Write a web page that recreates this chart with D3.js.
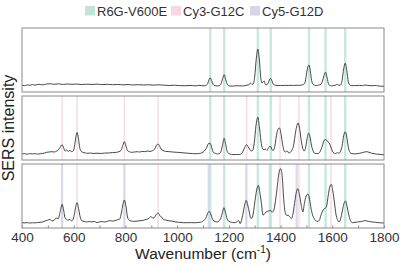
<!DOCTYPE html>
<html>
<head>
<meta charset="utf-8">
<script src="https://cdn.jsdelivr.net/npm/d3@7"></script>
<style>
  body { margin: 0; background: #fff; }
  text { font-family: "Liberation Sans", Arial, sans-serif; }
</style>
</head>
<body>
<div id="chart"></div>
<script>
// legend entries
const legendLabels = ["R6G-V600E", "Cy3-G12C", "Cy5-G12D"];

// x axis ticks
const xTicks = [400, 600, 800, 1000, 1200, 1400, 1600, 1800];

// marker band positions (cm-1)
const r6gBands = [1128, 1182, 1312, 1362, 1510, 1574, 1650];
const cy3Bands = [555, 613, 796, 926, 1269, 1398, 1471, 1595];
const cy5Bands = [555, 796, 1122, 1267, 1358, 1462];

// spectra, [wavenumber, intensity a.u.]
const spectrumTop = [[400,10.5],[410,10],[420,11],[430,10.5],[440,11.5],[450,10.8],[465,12],[480,11.2],[495,12.5],[510,13],[525,12],[540,12.8],[560,11.8],[575,12.5],[590,12],[610,12.4],[630,11.6],[650,12.2],[670,11.8],[690,12.3],[710,11.5],[730,12],[750,11.4],[770,11.8],[790,11.2],[810,11.6],[830,11],[850,11.4],[870,11],[890,11.3],[910,10.8],[930,11.2],[950,10.6],[970,10.2],[990,10.6],[1010,10],[1030,9.8],[1050,10.2],[1070,9.6],[1085,10.4],[1095,10],[1105,9.6],[1112,10.5],[1118,13],[1123,19],[1128,22],[1133,18],[1139,12],[1146,9.8],[1155,9.4],[1162,10],[1170,13],[1176,21],[1182,27],[1188,19],[1194,12],[1202,9.5],[1212,9.2],[1222,9.4],[1232,9.8],[1242,9.6],[1252,9.4],[1262,10],[1270,10.6],[1278,11.5],[1284,14],[1289,12],[1294,12.5],[1300,24],[1306,52],[1312,67],[1318,50],[1323,24],[1328,14],[1333,16],[1337,17],[1341,12],[1346,11],[1352,14],[1357,19],[1362,21],[1367,17],[1372,12],[1380,10.5],[1390,10],[1400,10.4],[1410,10],[1420,10.4],[1430,10.2],[1440,10.5],[1450,10.2],[1460,10.6],[1470,10.4],[1480,10.8],[1490,12],[1496,17],[1501,30],[1506,40],[1510,42],[1515,33],[1520,18],[1526,12],[1532,10.5],[1540,10],[1548,11],[1556,12],[1562,17],[1568,26],[1574,31],[1580,22],[1586,12],[1592,10],[1598,9.5],[1606,10],[1614,11],[1620,12],[1626,10.5],[1632,11],[1638,18],[1644,36],[1650,45],[1656,34],[1662,16],[1668,11],[1676,9.8],[1686,10.2],[1696,10],[1706,10.4],[1716,10],[1726,10.8],[1736,10.4],[1746,10],[1756,9.8],[1766,10.2],[1776,9.6],[1786,9.2],[1800,8.8]];

const spectrumMid = [[400,9.4],[410,10],[420,9],[430,10],[440,9.4],[450,10],[460,9.2],[470,9.8],[480,10.2],[488,11],[495,12],[505,12.5],[515,13],[525,12.5],[532,13.5],[540,15.6],[548,20],[555,24],[561,19],[567,14],[573,15.6],[579,13.5],[585,15],[592,13],[598,14],[604,24],[608,35],[613,43],[618,34],[623,20],[628,14],[635,12],[645,11],[655,10.4],[665,11],[675,10.2],[690,10.6],[705,10.2],[720,10.8],[735,11],[750,11.5],[765,12],[775,13],[783,15],[790,23],[796,28.6],[802,22],[808,15],[815,13],[825,12],[835,12.5],[845,13],[855,12.4],[865,13.5],[875,13],[885,14],[895,13.5],[905,14.6],[913,17],[920,23],[926,25],[932,22],[938,17],[945,15],[955,13.5],[970,13],[985,12.4],[1000,12],[1015,11.5],[1030,11],[1045,10.4],[1060,10],[1075,9.8],[1090,10.5],[1100,12],[1108,15.6],[1115,20],[1122,26],[1128,26],[1134,19],[1140,12],[1148,10.4],[1156,9.4],[1163,10],[1170,14],[1176,24],[1182,34],[1188,24],[1194,13],[1200,10],[1210,8.8],[1220,8.4],[1230,8.6],[1240,8.5],[1248,9.5],[1255,14],[1262,20],[1268,24],[1274,21],[1280,17],[1286,14],[1292,15],[1298,26],[1305,54],[1312,67],[1318,52],[1324,30],[1330,18],[1336,16],[1342,17],[1347,15],[1352,18],[1357,21],[1362,21],[1367,16],[1372,15],[1378,22],[1384,38],[1390,48],[1396,50],[1402,40],[1408,24],[1414,14],[1420,12.5],[1426,14],[1432,11],[1438,12],[1444,15.6],[1450,22],[1456,38],[1462,52],[1468,58],[1474,48],[1480,30],[1486,18],[1491,14],[1496,18],[1502,32],[1508,42],[1514,36],[1520,22],[1526,14],[1533,10.4],[1540,10],[1547,10.4],[1554,14],[1560,20],[1566,28],[1572,32],[1578,31],[1584,28],[1590,25],[1595,20],[1600,14],[1606,11],[1613,10],[1620,11.5],[1626,10.5],[1632,14],[1638,22],[1644,38],[1650,44],[1656,36],[1662,20],[1668,12],[1676,10],[1686,9.6],[1696,9.8],[1706,10.5],[1716,11.5],[1726,12.6],[1734,13],[1742,12],[1752,10.6],[1762,9.8],[1772,9.2],[1784,8.8],[1800,8]];

const spectrumBot = [[400,8.3],[410,8],[420,8.4],[430,7.8],[440,8.2],[450,8],[460,8.5],[470,8.8],[480,9.4],[490,11],[498,12],[508,13.5],[516,11],[524,12],[532,15.6],[540,14.6],[548,26],[555,37],[561,28],[567,15],[572,13.5],[578,12],[585,13.5],[592,11],[598,14],[603,22.4],[608,34],[613,39.6],[619,30],[625,17.2],[632,11],[640,10.4],[650,9.4],[660,10],[670,9.6],[680,10.4],[690,8.4],[700,9.6],[710,10],[720,9.4],[730,10.5],[740,11.5],[750,10.8],[760,11.5],[770,13],[778,14],[785,25],[790,36],[796,43.75],[802,34],[808,17.2],[815,12],[822,11],[832,10.4],[845,10.8],[860,11.5],[870,12],[880,13.5],[890,14.6],[898,18.2],[904,16],[910,15.6],[916,19],[921,22],[927,23.4],[933,19],[940,17.2],[946,13.5],[955,12.5],[965,11.5],[980,10.8],[995,9.4],[1010,8.8],[1025,8.3],[1040,8.3],[1055,8.4],[1070,8.2],[1085,8.8],[1095,9.4],[1103,12],[1110,14.6],[1117,22],[1124,26],[1130,22],[1136,14.6],[1142,11],[1148,10],[1155,9.4],[1162,11],[1168,14.6],[1175,24],[1181,31.8],[1187,24],[1193,14.6],[1200,10.4],[1210,9],[1220,8.3],[1230,9.4],[1238,11.5],[1244,6.8],[1250,14],[1256,25],[1262,38],[1267,43.2],[1273,36],[1279,25],[1285,15],[1290,16],[1296,27],[1303,48],[1309,62],[1314,66.7],[1320,55],[1326,38],[1332,20],[1338,22],[1344,25],[1350,26],[1356,27],[1361,27.6],[1366,25],[1372,26],[1378,36],[1386,60],[1393,84],[1400,92.7],[1406,82],[1412,45.8],[1418,24],[1424,19.8],[1430,19.8],[1436,17],[1442,14.6],[1448,22],[1454,38],[1460,54],[1467,61.5],[1473,52],[1480,35.4],[1486,25],[1492,38],[1499,50],[1506,53],[1512,45],[1518,30.2],[1524,20],[1530,14.6],[1537,11],[1544,10.4],[1550,12],[1556,19.8],[1562,26],[1568,30],[1573,30.7],[1578,34],[1584,50],[1590,64],[1596,68.2],[1602,58],[1608,40.6],[1614,22],[1620,13],[1626,9.4],[1632,14],[1638,25],[1645,38],[1651,42.2],[1657,34],[1663,22],[1670,12],[1678,8.3],[1688,8.8],[1698,9.4],[1708,10],[1718,10.6],[1726,11.5],[1734,11],[1744,10],[1756,9.4],[1768,8.8],[1780,8.3],[1790,8],[1800,7.8]];

// set the dimensions
const width = 400, height = 268;
const margin = {top: 28, right: 16, bottom: 40, left: 22};
const panelH = 64, panelGap = 4;

const colors = {r6g: "#bfe5da", cy3: "#f7d8e2", cy5: "#d6d5ea"};
const bandW = {r6g: 9, cy3: 6, cy5: 8};

const svg = d3.select("#chart")
  .append("svg")
    .attr("width", width)
    .attr("height", height);

// x scale shared by the three panels
const xScale = d3.scaleLinear()
  .domain([400, 1800])
  .range([margin.left, width - margin.right]);

const panels = [
  {data: spectrumTop, bands: [["r6g", r6gBands]]},
  {data: spectrumMid, bands: [["cy3", cy3Bands], ["r6g", r6gBands]]},
  {data: spectrumBot, bands: [["cy3", cy3Bands], ["cy5", cy5Bands], ["r6g", r6gBands]]}
];

panels.forEach(function(p, i) {
  const top = margin.top + i * (panelH + panelGap);
  const yScale = d3.scaleLinear()
    .domain([0, 100])
    .range([top + panelH, top]);

  const g = svg.append("g");

  // coloured marker bands
  p.bands.forEach(function(b) {
    const key = b[0];
    g.selectAll(null)
      .data(b[1])
      .enter()
      .append("rect")
        .attr("x", d => xScale(d - bandW[key] / 2))
        .attr("y", top)
        .attr("width", xScale(bandW[key]) - xScale(0))
        .attr("height", panelH)
        .attr("fill", colors[key])
        .attr("fill-opacity", 0.9);
  });

  // spectrum line
  const line = d3.line()
    .x(d => xScale(d[0]))
    .y(d => yScale(d[1]))
    .curve(d3.curveMonotoneX);

  g.append("path")
    .datum(p.data)
    .attr("fill", "none")
    .attr("stroke", "#333")
    .attr("stroke-width", 0.9)
    .attr("d", line);

  // frame
  g.append("rect")
    .attr("x", xScale(400))
    .attr("y", top)
    .attr("width", xScale(1800) - xScale(400))
    .attr("height", panelH)
    .attr("fill", "none")
    .attr("stroke", "#8a8a8a")
    .attr("stroke-width", 1);

  // x axis on the bottom panel
  if (i === panels.length - 1) {
    const axis = svg.append("g")
      .attr("transform", `translate(0, ${top + panelH})`)
      .call(d3.axisBottom(xScale)
        .tickValues(d3.range(400, 1801, 100))
        .tickSize(-2.5)
        .tickPadding(4)
        .tickFormat(d => xTicks.includes(d) ? d : ""));
    axis.select(".domain").remove();
    axis.selectAll(".tick line").attr("stroke", "#8a8a8a");
    axis.selectAll(".tick text")
      .attr("fill", "#333")
      .style("font-size", "13.5px")
      .style("font-family", "'Liberation Sans', Arial, sans-serif");
  }
});

// y axis title
svg.append("text")
  .attr("transform", `translate(14, ${margin.top + (3 * panelH + 2 * panelGap) / 2}) rotate(-90)`)
  .attr("text-anchor", "middle")
  .attr("fill", "#222")
  .style("font-size", "16px")
  .text("SERS intensity");

// x axis title
const xTitle = svg.append("text")
  .attr("x", (xScale(400) + xScale(1800)) / 2)
  .attr("y", 259)
  .attr("text-anchor", "middle")
  .attr("fill", "#222")
  .style("font-size", "15.5px");
xTitle.append("tspan").text("Wavenumber (cm");
xTitle.append("tspan").attr("dy", -6).style("font-size", "10px").text("-1");
xTitle.append("tspan").attr("dy", 6).text(")");

// legend
const legendX = [85, 171, 250];
const legendKeys = ["r6g", "cy3", "cy5"];
const legend = svg.selectAll(".legend")
  .data(legendLabels)
  .enter()
  .append("g")
    .attr("class", "legend")
    .attr("transform", (d, i) => `translate(${legendX[i]}, 6)`);
legend.append("rect")
  .attr("width", 10)
  .attr("height", 9.5)
  .attr("fill", (d, i) => colors[legendKeys[i]]);
legend.append("text")
  .attr("x", 12)
  .attr("y", 9.5)
  .attr("fill", "#333")
  .style("font-size", "13px")
  .text(d => d);
</script>
</body>
</html>
